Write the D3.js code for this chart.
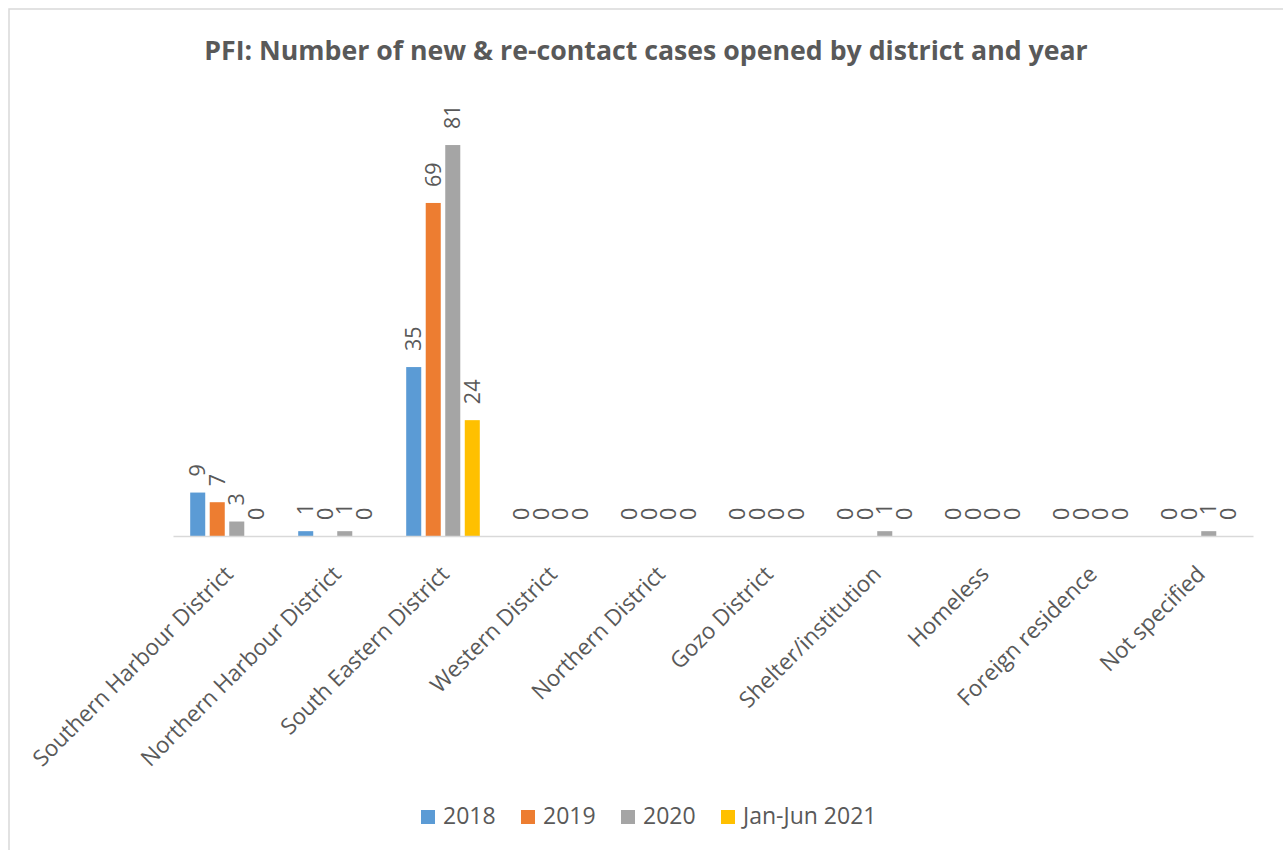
<!DOCTYPE html>
<html>
<head>
<meta charset="utf-8">
<script src="https://cdn.jsdelivr.net/npm/d3@7"></script>
<style>
html,body{margin:0;padding:0;background:#fff;}
svg{display:block;}
</style>
</head>
<body>
<script>
const categories = ["Southern Harbour District","Northern Harbour District","South Eastern District","Western District","Northern District","Gozo District","Shelter/institution","Homeless","Foreign residence","Not specified"];
const seriesNames = ["2018","2019","2020","Jan-Jun 2021"];
const values2018 = [9,1,35,0,0,0,0,0,0,0];
const values2019 = [7,0,69,0,0,0,0,0,0,0];
const values2020 = [3,1,81,0,0,0,1,0,0,1];
const valuesJanJun2021 = [0,0,24,0,0,0,0,0,0,0];
const colors = ["#5b9bd5","#ed7d31","#a5a5a5","#ffc000"];
const allSeries = [values2018, values2019, values2020, valuesJanJun2021];

const W = 1283, H = 850;
const svg = d3.select("body").append("svg").attr("width", W).attr("height", H);
const font = "'Open Sans', 'Liberation Sans', sans-serif";
const textColor = "#595959";

svg.append("rect").attr("x", 9).attr("y", 9).attr("width", 1300).attr("height", 900)
  .attr("fill", "#fff").attr("stroke", "#d9d9d9").attr("stroke-width", 1.5);

svg.append("text").attr("x", 646).attr("y", 60).attr("text-anchor", "middle")
  .attr("font-family", font).attr("font-weight", "bold").attr("font-size", 26.7)
  .attr("fill", textColor).text("PFI: Number of new & re-contact cases opened by district and year");

const x0 = d3.scaleBand().domain(categories).range([173, 1253]).padding(0);
const x1 = d3.scaleBand().domain(seriesNames).range([17.2, 90.8]).paddingInner(0.23).paddingOuter(0);
const y = d3.scaleLinear().domain([0, 90]).range([536, 101.6]);

const data = categories.map((c, i) => ({cat: c, vals: seriesNames.map((s, j) => ({s, j, v: allSeries[j][i]}))}));

const g = svg.append("g");
const groups = g.selectAll("g.grp").data(data).join("g").attr("class", "grp")
  .attr("transform", d => `translate(${x0(d.cat)},0)`);

groups.selectAll("rect").data(d => d.vals).join("rect")
  .attr("x", d => x1(d.s)).attr("width", x1.bandwidth())
  .attr("y", d => y(d.v)).attr("height", d => y(0) - y(d.v))
  .attr("fill", d => colors[d.j]);

groups.selectAll("text").data(d => d.vals).join("text")
  .attr("transform", d => `translate(${x1(d.s) + x1.bandwidth()/2},${y(d.v) - 16}) rotate(-90)`)
  .attr("dy", "0.35em")
  .attr("font-family", font).attr("font-size", 21.5).attr("fill", textColor)
  .text(d => d.v);

// axis line
const xAxis = d3.axisBottom(x0).tickSize(0).tickFormat("");
const axG = svg.append("g").attr("transform", "translate(0,536)").call(xAxis);
axG.select(".domain").attr("stroke", "#d9d9d9").attr("stroke-width", 1.5);

// category labels
svg.append("g").selectAll("text").data(categories).join("text")
  .attr("transform", d => `translate(${x0(d) + x0.bandwidth()/2 - 4},${564}) rotate(-45)`)
  .attr("text-anchor", "end").attr("dy", "0.72em")
  .attr("font-family", font).attr("font-size", 22.5).attr("fill", textColor)
  .text(d => d);

// legend
const leg = svg.append("g").selectAll("g").data(seriesNames).join("g")
  .attr("transform", (d, i) => `translate(${421 + i*100},810)`);
leg.append("rect").attr("width", 14).attr("height", 14).attr("fill", (d, i) => colors[i]);
leg.append("text").attr("x", 22).attr("y", 14)
  .attr("font-family", font).attr("font-size", 23).attr("fill", textColor).text(d => d);
</script>
</body>
</html>
